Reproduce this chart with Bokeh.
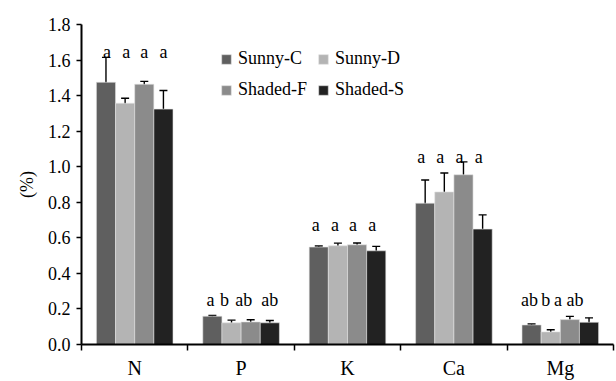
from bokeh.plotting import figure
from bokeh.models import (ColumnDataSource, Whisker, TeeHead, FixedTicker, Legend, LegendItem,
                          Range1d, NumeralTickFormatter)
from bokeh.core.properties import value
from bokeh.embed import file_html
from bokeh.resources import INLINE

nutrients = ["N", "P", "K", "Ca", "Mg"]
series = ["Sunny-C", "Sunny-D", "Shaded-F", "Shaded-S"]
colors = ["#5f5f5f", "#b4b4b4", "#8b8b8b", "#222222"]

sunny_c = [1.475, 0.159, 0.548, 0.795, 0.110]
sunny_d = [1.357, 0.122, 0.555, 0.858, 0.071]
shaded_f = [1.464, 0.127, 0.561, 0.955, 0.140]
shaded_s = [1.324, 0.122, 0.527, 0.649, 0.125]

err_c = [0.140, 0.005, 0.006, 0.130, 0.005]
err_d = [0.028, 0.015, 0.015, 0.107, 0.012]
err_f = [0.016, 0.012, 0.010, 0.072, 0.018]
err_s = [0.105, 0.013, 0.025, 0.080, 0.025]

sig_c = ["a", "a", "a", "a", "ab"]
sig_d = ["a", "b", "a", "a", "b"]
sig_f = ["a", "ab", "a", "a", "a"]
sig_s = ["a", "ab", "a", "a", "ab"]
sig_y = [1.645, 0.25, 0.673, 1.056, 0.248]

y_ticks = [0.0, 0.2, 0.4, 0.6, 0.8, 1.0, 1.2, 1.4, 1.6, 1.8]

# label nudges (screen px) for the significance letters
nudge_c = [1, -2, -3, -4, -2]
nudge_d = [1, -7, -3, -4, -5]
nudge_f = [0, -7, -4, -4, -12]
nudge_s = [0, 0, -4, -4, -14]

vals = [sunny_c, sunny_d, shaded_f, shaded_s]
errs = [err_c, err_d, err_f, err_s]
sigs = [sig_c, sig_d, sig_f, sig_s]
nudges = [nudge_c, nudge_d, nudge_f, nudge_s]

FONT = "'Liberation Serif', 'Times New Roman', serif"
bar_w = 0.18

p = figure(width=616, height=381, output_backend="svg", toolbar_location=None,
           x_range=Range1d(0, len(nutrients)), y_range=Range1d(0, 1.8),
           min_border_left=81, min_border_right=3, min_border_top=24, min_border_bottom=36)
p.outline_line_color = None
p.xgrid.visible = False
p.ygrid.visible = False
p.background_fill_color = "white"

centers = [i + 0.5 for i in range(len(nutrients))]
items = []
for k, name in enumerate(series):
    xs = [c + (k - 1.5) * bar_w for c in centers]
    src = ColumnDataSource(dict(x=xs, top=vals[k],
                                upper=[v + e for v, e in zip(vals[k], errs[k])],
                                lower=[v - e for v, e in zip(vals[k], errs[k])],
                                sig=sigs[k], sy=sig_y, dx=nudges[k]))
    r = p.vbar(x="x", top="top", width=bar_w, bottom=0, source=src,
               fill_color=colors[k], line_color="#e2e2e2", line_width=0.6)
    items.append(LegendItem(label=name, renderers=[r]))
    w = Whisker(base="x", upper="upper", lower="lower", source=src,
                line_color="black", line_width=1.4,
                upper_head=TeeHead(size=8, line_color="black", line_width=1.4),
                lower_head=TeeHead(size=8, line_color="black", line_width=1.4))
    p.add_layout(w)
    p.text(x="x", y="sy", text="sig", x_offset="dx", source=src, text_font=value(FONT),
           text_font_size="18px", text_align="center", text_baseline="alphabetic",
           text_color="black")

legend = Legend(items=items, orientation="horizontal", ncols=2, location=(139, 244),
                glyph_width=12, glyph_height=12, label_height=12, label_standoff=6,
                spacing=10, padding=0, margin=0, border_line_color=None,
                background_fill_alpha=0, label_text_font=FONT, label_text_font_size="18px",
                label_text_color="black")
p.add_layout(legend, "center")

# y axis
p.yaxis.ticker = FixedTicker(ticks=y_ticks)
p.yaxis.formatter = NumeralTickFormatter(format="0.0")
p.yaxis.axis_line_width = 2
p.yaxis.axis_line_color = "black"
p.yaxis.major_tick_out = 5
p.yaxis.major_tick_in = 0
p.yaxis.major_tick_line_width = 1.5
p.yaxis.minor_tick_line_color = None
p.yaxis.major_label_text_font = FONT
p.yaxis.major_label_text_font_size = "18px"
p.yaxis.major_label_text_color = "black"
p.yaxis.major_label_standoff = 6
p.yaxis.axis_label = "(%)"
p.yaxis.axis_label_text_font = FONT
p.yaxis.axis_label_text_font_style = "normal"
p.yaxis.axis_label_text_font_size = "18px"
p.yaxis.axis_label_text_color = "black"
p.yaxis.axis_label_standoff = 8

# x axis
p.xaxis.ticker = FixedTicker(ticks=centers, minor_ticks=list(range(len(nutrients) + 1)))
p.xaxis.major_label_overrides = {c: n for c, n in zip(centers, nutrients)}
p.xaxis.axis_line_width = 2
p.xaxis.axis_line_color = "black"
p.xaxis.major_tick_line_color = None
p.xaxis.major_tick_out = 6
p.xaxis.minor_tick_line_color = "black"
p.xaxis.minor_tick_out = 6
p.xaxis.minor_tick_in = 0
p.xaxis.minor_tick_line_width = 1.5
p.xaxis.major_label_text_font = FONT
p.xaxis.major_label_text_font_size = "20px"
p.xaxis.major_label_text_color = "black"
p.xaxis.major_label_standoff = 6

open("out.html", "w").write(file_html(p, INLINE))
